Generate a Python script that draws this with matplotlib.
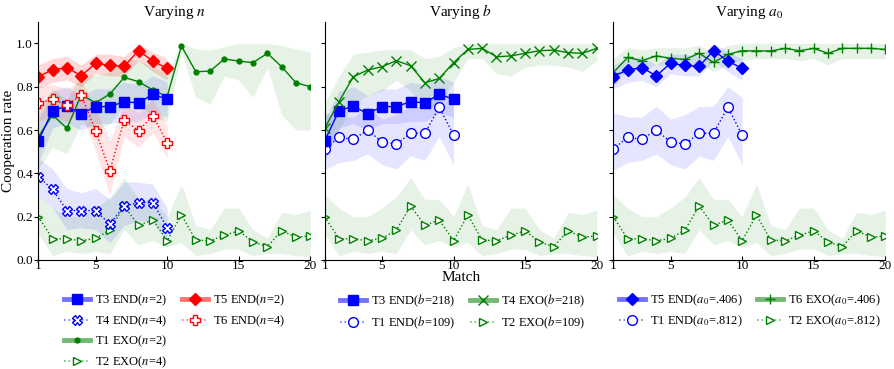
import numpy as np
import matplotlib
matplotlib.use("Agg")
import matplotlib.pyplot as plt
from matplotlib.lines import Line2D

plt.rcParams['font.family'] = ['Liberation Serif', 'DejaVu Serif']
plt.rcParams['mathtext.fontset'] = 'stix'

matches_10 = np.arange(1, 11)
matches_20 = np.arange(1, 21)

# mean cooperation rate per match, with lower / upper band
t3_end = [0.55, 0.69, 0.71, 0.675, 0.708, 0.708, 0.731, 0.725, 0.765, 0.742]
t3_end_lo = [0.45, 0.61, 0.63, 0.60, 0.63, 0.63, 0.64, 0.64, 0.68, 0.66]
t3_end_hi = [0.65, 0.78, 0.80, 0.76, 0.79, 0.79, 0.82, 0.81, 0.85, 0.82]

t4_end = [0.385, 0.326, 0.228, 0.228, 0.228, 0.166, 0.249, 0.265, 0.265, 0.149]
t4_end_lo = [0.30, 0.24, 0.14, 0.15, 0.14, 0.08, 0.16, 0.18, 0.18, 0.08]
t4_end_hi = [0.47, 0.42, 0.33, 0.31, 0.33, 0.28, 0.36, 0.36, 0.35, 0.24]

t5_end = [0.847, 0.878, 0.888, 0.85, 0.908, 0.898, 0.894, 0.967, 0.918, 0.885]
t5_end_lo = [0.79, 0.82, 0.83, 0.80, 0.86, 0.85, 0.85, 0.92, 0.87, 0.83]
t5_end_hi = [0.90, 0.93, 0.94, 0.90, 0.95, 0.95, 0.94, 1.00, 0.96, 0.93]

t6_end = [0.723, 0.742, 0.715, 0.762, 0.597, 0.412, 0.646, 0.597, 0.666, 0.542]
t6_end_lo = [0.64, 0.66, 0.64, 0.68, 0.50, 0.30, 0.57, 0.52, 0.59, 0.47]
t6_end_hi = [0.80, 0.81, 0.79, 0.83, 0.70, 0.55, 0.72, 0.68, 0.74, 0.62]

t1_end = [0.512, 0.566, 0.557, 0.60, 0.545, 0.535, 0.585, 0.585, 0.705, 0.577]
t1_end_lo = [0.415, 0.45, 0.46, 0.49, 0.44, 0.42, 0.48, 0.46, 0.57, 0.44]
t1_end_hi = [0.68, 0.66, 0.66, 0.71, 0.65, 0.67, 0.71, 0.71, 0.80, 0.75]

t1_exo = [0.569, 0.669, 0.608, 0.762, 0.726, 0.766, 0.843, 0.823, 0.785, 0.754,
          0.988, 0.869, 0.872, 0.928, 0.918, 0.911, 0.954, 0.892, 0.818, 0.80]
t1_exo_lo = [0.42, 0.52, 0.49, 0.63, 0.60, 0.63, 0.72, 0.72, 0.66, 0.64,
             0.96, 0.75, 0.72, 0.85, 0.83, 0.75, 0.89, 0.67, 0.60, 0.60]
t1_exo_hi = [0.70, 0.79, 0.74, 0.86, 0.85, 0.87, 0.93, 0.92, 0.89, 0.86,
             1.00, 0.975, 0.97, 0.985, 1.00, 1.00, 1.00, 0.99, 0.975, 0.96]

t2_exo = [0.20, 0.098, 0.098, 0.089, 0.10, 0.138, 0.249, 0.16, 0.185, 0.089,
          0.208, 0.092, 0.089, 0.114, 0.135, 0.083, 0.062, 0.135, 0.105, 0.111]
t2_exo_lo = [0.12, 0.02, 0.04, 0.03, 0.04, 0.03, 0.14, 0.07, 0.09, 0.06,
             0.08, 0.02, 0.03, 0.05, 0.05, 0.02, 0.03, 0.03, 0.02, 0.015]
t2_exo_hi = [0.30, 0.24, 0.20, 0.20, 0.24, 0.29, 0.38, 0.28, 0.28, 0.20,
             0.35, 0.16, 0.14, 0.24, 0.24, 0.14, 0.10, 0.22, 0.21, 0.23]

t4_exo = [0.608, 0.731, 0.846, 0.877, 0.892, 0.92, 0.897, 0.818, 0.838, 0.911,
          0.972, 0.977, 0.938, 0.942, 0.954, 0.966, 0.969, 0.957, 0.954, 0.977]
t4_exo_lo = [0.50, 0.60, 0.72, 0.76, 0.78, 0.83, 0.78, 0.70, 0.72, 0.82,
             0.93, 0.93, 0.86, 0.85, 0.89, 0.90, 0.90, 0.89, 0.87, 0.92]
t4_exo_hi = [0.72, 0.85, 0.95, 0.96, 0.97, 0.97, 0.97, 0.93, 0.94, 0.98,
             1.00, 1.00, 1.00, 1.00, 1.00, 1.00, 1.00, 1.00, 1.00, 1.00]

t6_exo = [0.865, 0.935, 0.92, 0.942, 0.931, 0.926, 0.954, 0.912, 0.949, 0.966,
          0.965, 0.965, 0.977, 0.966, 0.977, 0.954, 0.977, 0.977, 0.977, 0.972]
t6_exo_lo = [0.80, 0.88, 0.88, 0.90, 0.89, 0.89, 0.91, 0.87, 0.90, 0.92,
             0.93, 0.93, 0.93, 0.92, 0.93, 0.90, 0.93, 0.93, 0.93, 0.93]
t6_exo_hi = [0.93, 0.98, 0.97, 0.98, 0.98, 0.98, 0.99, 0.96, 0.99, 1.00,
             1.00, 1.00, 1.00, 1.00, 1.00, 1.00, 1.00, 1.00, 1.00, 1.00]

BLUE = (0, 0, 1)
RED = (1, 0, 0)
GREEN = (0, 0.5, 0)


def draw(ax, x, y, lo, hi, color, marker, ls, ms, filled=True, alpha=0.1):
    ax.fill_between(x, lo, hi, color=color, alpha=alpha, lw=0)
    ax.plot(x, y, color=color, ls=ls, lw=1.0, marker=marker, ms=ms,
            mfc=color if filled else 'white', mec=color, mew=1.0)
    thick = Line2D([], [], color=color, ls=ls, lw=3.5 if ls == '-' else 1.2, alpha=0.55)
    mark = Line2D([], [], color=color, lw=0, marker=marker, ms=ms,
                  mfc=color if filled else 'white', mec=color, mew=1.0)
    return (thick, mark)


def add_legend(handles, labels, x):
    fig.legend(handles, labels, loc='upper left', bbox_to_anchor=(x / W, 1 - 293 / H),
               ncol=2, frameon=False, fontsize=9, borderpad=0, borderaxespad=0,
               handlelength=2.1, handletextpad=0.4, columnspacing=1.15,
               labelspacing=0.4)


fig = plt.figure(figsize=(8.94, 3.69), dpi=100)
W, H = 894.0, 369.0
lefts = [38.3, 324.7, 613.3]
axes = [fig.add_axes([l / W, 1 - 260 / H, 272 / W, 238.3 / H]) for l in lefts]
titles = ['Varying $n$', 'Varying $b$', 'Varying $a_0$']

for i, ax in enumerate(axes):
    ax.set_xlim(1, 20)
    ax.set_ylim(0, 1.1)
    ax.set_xticks([1, 5, 10, 15, 20])
    ax.set_yticks([0.0, 0.2, 0.4, 0.6, 0.8, 1.0])
    for s in ['top', 'right']:
        ax.spines[s].set_visible(False)
    ax.tick_params(axis='y', labelsize=9.5, length=3, pad=1)
    ax.tick_params(axis='x', labelsize=9.5, length=3, pad=0, direction='in')
    ax.set_title(titles[i], fontsize=11, pad=4)
    if i > 0:
        ax.set_yticklabels([])

axes[0].set_ylabel('Cooperation rate', fontsize=11, labelpad=1)
axes[1].set_xlabel('Match', fontsize=11, labelpad=-1)

# panel 1: varying n
ax = axes[0]
h_t1x = draw(ax, matches_20, t1_exo, t1_exo_lo, t1_exo_hi, GREEN, 'o', '-', 3.5)
h_t2x = draw(ax, matches_20, t2_exo, t2_exo_lo, t2_exo_hi, GREEN, '>', ':', 6, filled=False)
h_t4 = draw(ax, matches_10, t4_end, t4_end_lo, t4_end_hi, BLUE, 'X', ':', 6.5, filled=False)
h_t3 = draw(ax, matches_10, t3_end, t3_end_lo, t3_end_hi, BLUE, 's', '-', 6.5)
h_t6 = draw(ax, matches_10, t6_end, t6_end_lo, t6_end_hi, RED, 'P', ':', 7, filled=False)
h_t5 = draw(ax, matches_10, t5_end, t5_end_lo, t5_end_hi, RED, 'D', '-', 6.5, alpha=0.15)
blank = Line2D([], [], lw=0)
add_legend([h_t3, h_t4, h_t1x, h_t2x, h_t5, h_t6, blank, blank],
           ['T3 END($n$=2)', 'T4 END($n$=4)', 'T1 EXO($n$=2)', 'T2 EXO($n$=4)',
            'T5 END($n$=2)', 'T6 END($n$=4)', '', ''], 64)

# panel 2: varying b
ax = axes[1]
h_t2x = draw(ax, matches_20, t2_exo, t2_exo_lo, t2_exo_hi, GREEN, '>', ':', 6, filled=False)
h_t1 = draw(ax, matches_10, t1_end, t1_end_lo, t1_end_hi, BLUE, 'o', ':', 7, filled=False)
h_t3 = draw(ax, matches_10, t3_end, t3_end_lo, t3_end_hi, BLUE, 's', '-', 6.5)
h_t4x = draw(ax, matches_20, t4_exo, t4_exo_lo, t4_exo_hi, GREEN, 'x', '-', 6.5)
add_legend([h_t3, h_t1, h_t4x, h_t2x],
           ['T3 END($b$=218)', 'T1 END($b$=109)', 'T4 EXO($b$=218)', 'T2 EXO($b$=109)'], 340)

# panel 3: varying a0
ax = axes[2]
h_t2x = draw(ax, matches_20, t2_exo, t2_exo_lo, t2_exo_hi, GREEN, '>', ':', 6, filled=False)
h_t1 = draw(ax, matches_10, t1_end, t1_end_lo, t1_end_hi, BLUE, 'o', ':', 7, filled=False)
h_t6x = draw(ax, matches_20, t6_exo, t6_exo_lo, t6_exo_hi, GREEN, '+', '-', 7)
h_t5 = draw(ax, matches_10, t5_end, t5_end_lo, t5_end_hi, BLUE, 'D', '-', 6.5)
add_legend([h_t5, h_t1, h_t6x, h_t2x],
           ['T5 END($a_0$=.406)', 'T1 END($a_0$=.812)', 'T6 EXO($a_0$=.406)',
            'T2 EXO($a_0$=.812)'], 619)

fig.savefig('out.png', dpi=100)
